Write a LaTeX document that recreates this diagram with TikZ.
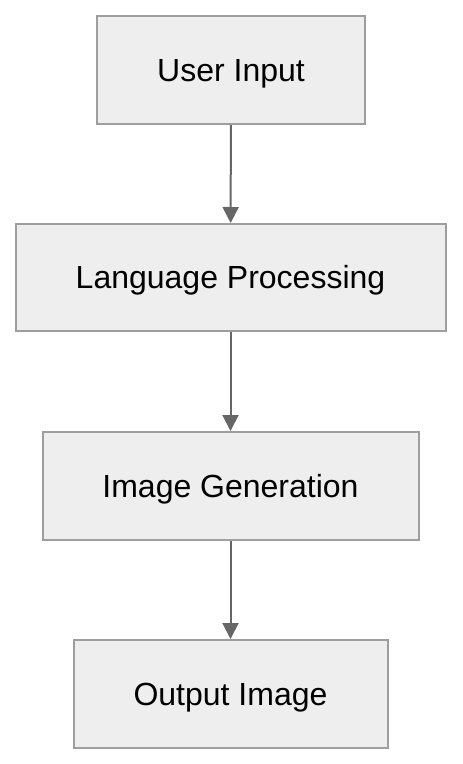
\documentclass[tikz,border=0pt]{standalone}
\usepackage{fontspec}
\setmainfont{Liberation Sans}
\usetikzlibrary{arrows.meta}
\definecolor{boxfill}{HTML}{EEEEEE}
\definecolor{boxline}{HTML}{9E9E9E}
\definecolor{arrowc}{HTML}{666666}
\begin{document}
\begin{tikzpicture}[x=0.75pt,y=-0.75pt,
  stepbox/.style={draw=boxline,fill=boxfill,line width=1.5pt,font=\fontsize{24}{28}\selectfont,text=black,inner sep=0pt,text height=17.2pt,text depth=0pt},
  conn/.style={draw=arrowc,line width=1.5pt,-{Triangle[width=12pt,length=12pt]}}]
\useasboundingbox (0,0) rectangle (462,764);
\node[stepbox,minimum width=268*0.75pt,minimum height=108*0.75pt] (a) at (231,70) {User Input};
\node[stepbox,minimum width=430*0.75pt,minimum height=107*0.75pt] (b) at (230.5,277.5) {Language Processing};
\node[stepbox,minimum width=376*0.75pt,minimum height=108*0.75pt] (c) at (230.5,486) {Image Generation};
\node[stepbox,minimum width=314*0.75pt,minimum height=108*0.75pt] (d) at (230.5,694) {Output Image};
\draw[conn] (a) -- (b);
\draw[conn] (b) -- (c);
\draw[conn] (c) -- (d);
\end{tikzpicture}
\end{document}
